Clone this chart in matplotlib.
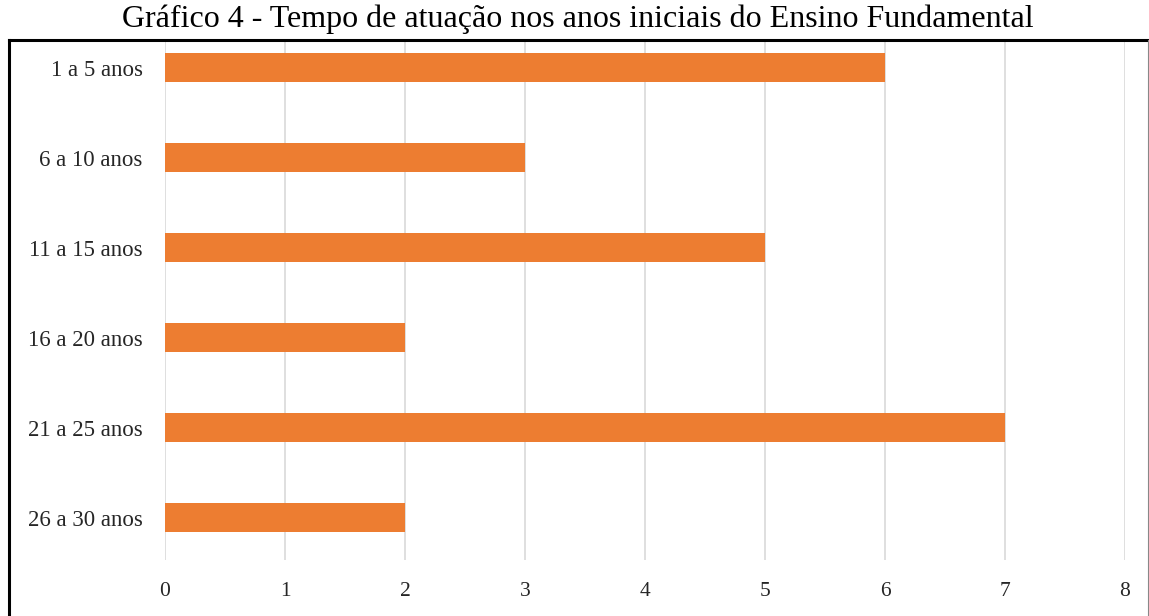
import matplotlib.pyplot as plt
from matplotlib.lines import Line2D

# data
categories = ['1 a 5 anos', '6 a 10 anos', '11 a 15 anos',
              '16 a 20 anos', '21 a 25 anos', '26 a 30 anos']
values = [6, 3, 5, 2, 7, 2]
x_ticks = [0, 1, 2, 3, 4, 5, 6, 7, 8]

W, H = 1149, 616
fig = plt.figure(figsize=(W / 100, H / 100), dpi=100)
plt.rcParams['font.family'] = ['Liberation Serif', 'DejaVu Serif']

# plot area in pixels: x 165..1125, y 40..560
ax = fig.add_axes([165 / W, (H - 560) / H, (1125 - 165) / W, 520 / H])

pos = list(range(len(categories)))
ax.barh(pos, values, height=0.33, color='#ED7D31', zorder=3)

ax.set_xlim(0, 8)
ax.set_ylim(5.472, -0.306)
ax.set_xticks(x_ticks)
ax.set_yticks(pos)
ax.set_yticklabels(categories)
ax.tick_params(axis='y', length=0, pad=16, labelsize=16.5, labelcolor='#262626')
ax.tick_params(axis='x', length=0, pad=16, labelsize=15.5, labelcolor='#262626')
ax.grid(axis='x', color='#D9D9D9', linewidth=1.2, zorder=0)
for s in ax.spines.values():
    s.set_visible(False)

# frame around the chart (bottom edge cut off in the original)
fig.add_artist(Line2D([9 / W, 9 / W], [0, (H - 40) / H], color='black', lw=2.2))
fig.add_artist(Line2D([9 / W, 1 - 1 / W], [(H - 40) / H, (H - 40) / H], color='black', lw=2.2))
fig.add_artist(Line2D([1147.5 / W, 1147.5 / W], [0, (H - 40) / H], color='#888888', lw=0.8))

fig.text(0.5 * (120 + 1035) / W, (H - 19) / H,
         'Gráfico 4 - Tempo de atuação nos anos iniciais do Ensino Fundamental',
         ha='center', va='center', fontsize=23, color='black')

fig.savefig('out.png', dpi=100)
